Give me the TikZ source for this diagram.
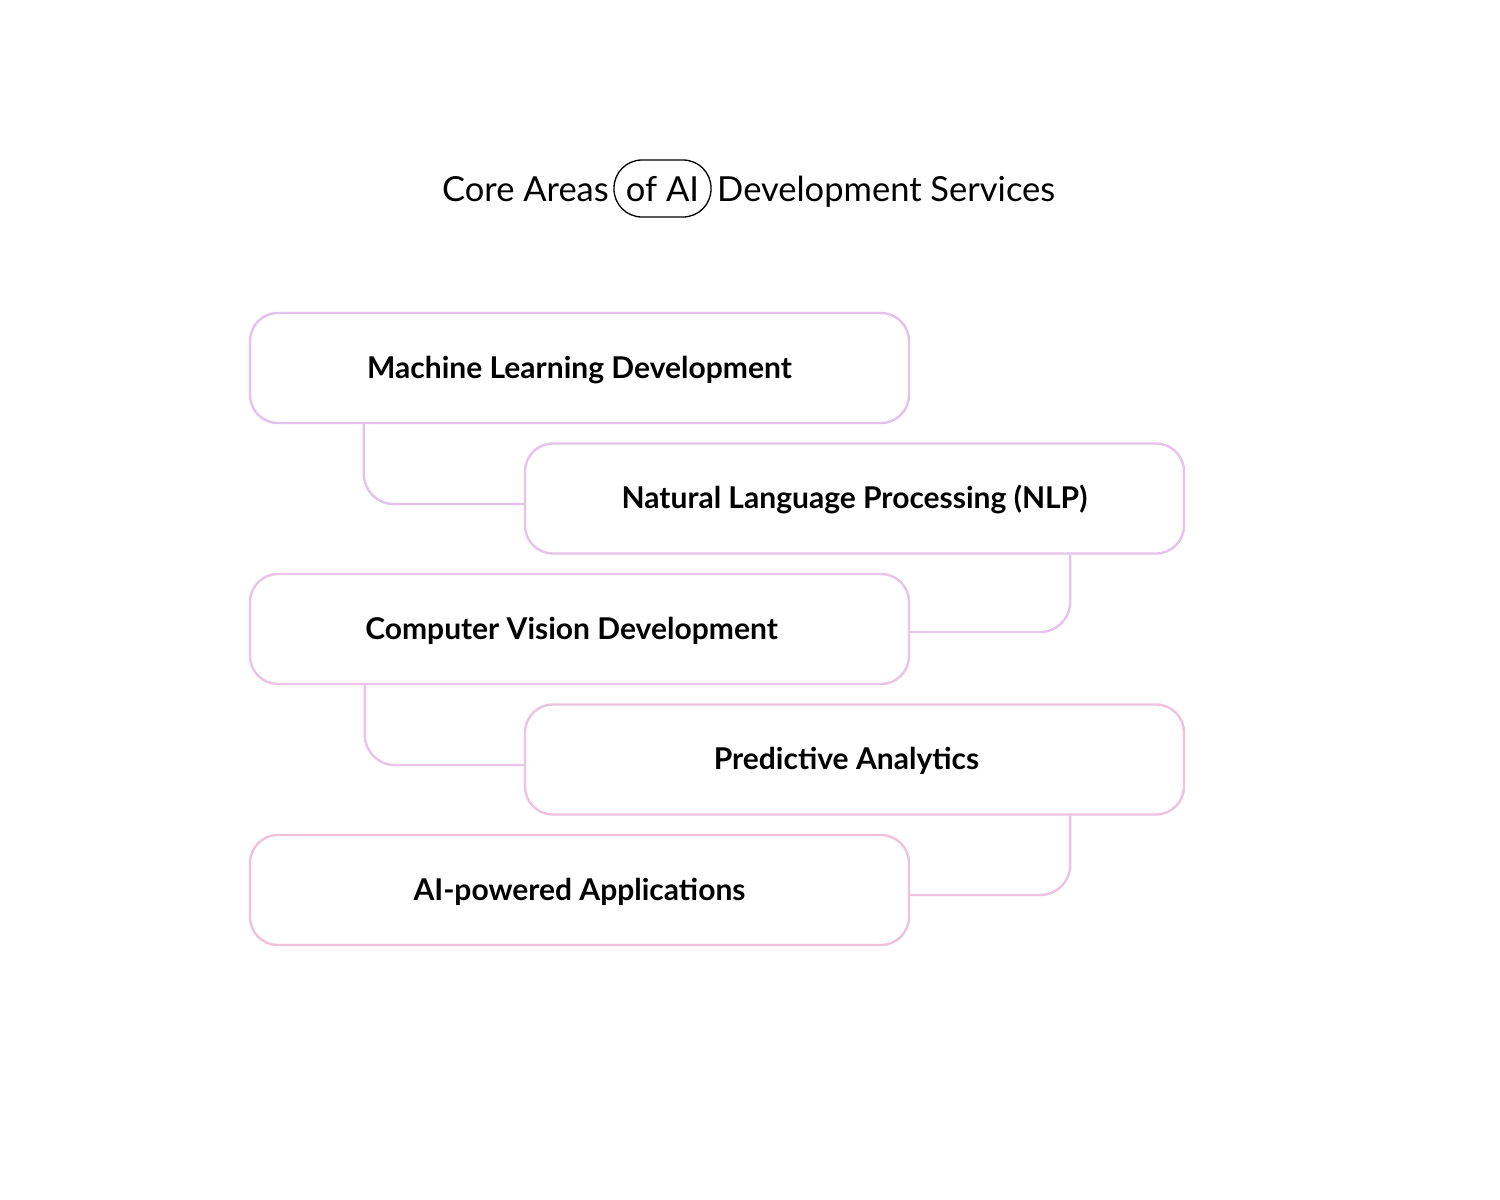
\documentclass[tikz,border=0pt]{standalone}
\usepackage{fontspec}
\setmainfont{Lato}
\definecolor{ca}{HTML}{E4C2F0}
\definecolor{cb}{HTML}{E7C2EC}
\definecolor{cc}{HTML}{EAC3E6}
\definecolor{cd}{HTML}{EDC3E0}
\definecolor{ce}{HTML}{F0C2D8}
\tikzset{
  card/.style={draw=#1, line width=2.4pt, rounded corners=28pt, minimum width=659pt, minimum height=110pt, inner sep=0pt, font=\fontsize{30}{34}\selectfont\bfseries, text=black, text height=22pt, text depth=2pt},
  link/.style={draw=#1, line width=2.4pt, rounded corners=30pt},
  titletext/.style={font=\fontsize{34.5}{40}\selectfont, inner sep=0pt, text=black}
}
\begin{document}
\begin{tikzpicture}[x=1pt,y=-1pt]
\useasboundingbox[fill=white] (0,0) rectangle (1500,1200);
% title
\node[draw=black, line width=1.3pt, rounded corners=28pt, minimum width=97pt, minimum height=57pt, titletext, text height=25pt, text depth=0pt, anchor=base] (pill) at (662.5,201) {of AI};
\node[titletext, anchor=base east] (tl) at (609,201) {Core Areas};
\node[titletext, anchor=base west] (tr) at (717,201) {Development Services};
% cards
\node[card=ca] (b1) at (579.5,368) {Machine Learning Development};
\node[card=cb] (b2) at (854.5,498.5) {Natural Language Processing (NLP)};
\node[card=cc] (b3) at (579.5,629) {Computer Vision Development\hspace*{16pt}};
\node[card=cd] (b4) at (854.5,759.5) {Predictive Analytics\hspace*{16pt}};
\node[card=ce] (b5) at (579.5,890) {AI-powered Applications};
% connectors
\draw[link=ca] ([xshift=115pt]b1.south west) |- ([yshift=-5.5pt]b2.west);
\draw[link=cb] ([xshift=-115pt]b2.south east) |- ([yshift=-3pt]b3.east);
\draw[link=cc] ([xshift=116pt]b3.south west) |- ([yshift=-5.5pt]b4.west);
\draw[link=cd] ([xshift=-115pt]b4.south east) |- ([yshift=-5pt]b5.east);
\end{tikzpicture}
\end{document}
